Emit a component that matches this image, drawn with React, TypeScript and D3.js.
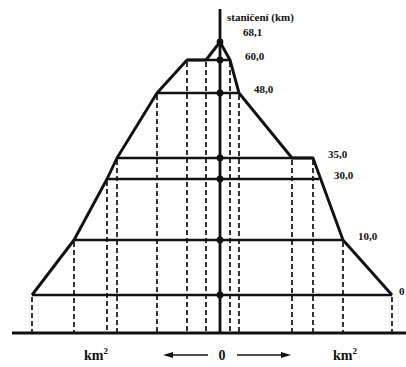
import React from 'react';
import * as d3 from 'd3';

// river chainage (km) of the confluences, from the source down to the mouth
const STATIONS = [68.1, 60.0, 48.0, 35.0, 30.0, 10.0, 0];
const STATION_LABELS = ['68,1', '60,0', '48,0', '35,0', '30,0', '10,0', '0'];

// left bank catchment outline: chainage / area (km2), a repeated chainage = tributary jump
const LEFT_KM = [68.1, 60.0, 60.0, 48.0, 35.0, 30.0, 10.0, 0];
const LEFT_AREA = [0, 14, 33, 63, 103, 113, 146, 188];

// right bank catchment outline
const RIGHT_KM = [68.1, 60.0, 48.0, 35.0, 35.0, 10.0, 0];
const RIGHT_AREA = [0, 10, 19, 72, 93, 123, 172];

const W = 406;
const H = 367;
const FONT = '"Liberation Serif", "Times New Roman", serif';
const INK = '#111';

// area at a given chainage (largest value where the outline jumps)
function areaAt(kms: number[], areas: number[], s: number) {
  const hits = areas.filter((_, i) => kms[i] === s);
  if (hits.length) return d3.max(hits) as number;
  for (let i = 0; i < kms.length - 1; i++) {
    if (kms[i] > s && kms[i + 1] < s) {
      const t = (kms[i] - s) / (kms[i] - kms[i + 1]);
      return areas[i] + t * (areas[i + 1] - areas[i]);
    }
  }
  return 0;
}

export default function App() {
  // the chainage axis of the original drawing is not to scale
  const y = d3.scaleLinear().domain(STATIONS).range([42, 60, 93, 158, 179, 240, 295]);
  const x = d3.scaleLinear().domain([-200, 200]).range([20, 420]);
  const baseY = 333;
  const axisX = x(0);

  const line = d3.line<[number, number]>();
  const leftPts: [number, number][] = LEFT_KM.map((k, i) => [x(-LEFT_AREA[i]), y(k)]);
  const rightPts: [number, number][] = RIGHT_KM.map((k, i) => [x(RIGHT_AREA[i]), y(k)]);

  const drops = [
    ...leftPts.filter((_, i) => LEFT_AREA[i] > 0),
    ...rightPts.filter((_, i) => RIGHT_AREA[i] > 0),
  ];

  return (
    <svg width={W} height={H} style={{ position: 'absolute', left: 0, top: 0, background: '#fff' }}>
      {/* projections of the outline vertices */}
      <g stroke={INK} strokeWidth={1.7} strokeDasharray="5 3">
        {drops.map(([px, py], i) => (
          <line key={`d-${i}`} x1={px} x2={px} y1={py + 2} y2={baseY} />
        ))}
      </g>

      {/* level lines */}
      <g stroke={INK} strokeWidth={2.3}>
        {STATIONS.filter((s) => s < 68).map((s) => (
          <line
            key={`h-${s}`}
            x1={x(-areaAt(LEFT_KM, LEFT_AREA, s))}
            x2={x(areaAt(RIGHT_KM, RIGHT_AREA, s))}
            y1={y(s)}
            y2={y(s)}
          />
        ))}
      </g>

      {/* outline */}
      <path d={line(leftPts) ?? ''} fill="none" stroke={INK} strokeWidth={2.9} strokeLinejoin="round" />
      <path d={line(rightPts) ?? ''} fill="none" stroke={INK} strokeWidth={2.9} strokeLinejoin="round" />

      {/* axis and baseline */}
      <line x1={axisX} x2={axisX} y1={9} y2={baseY} stroke={INK} strokeWidth={2.8} />
      <line x1={12} x2={W} y1={baseY} y2={baseY} stroke={INK} strokeWidth={2.8} />

      {STATIONS.map((s) => (
        <circle key={`c-${s}`} cx={axisX} cy={y(s)} r={3.4} fill={INK} />
      ))}

      {/* labels */}
      <g fontFamily={FONT} fontWeight="bold" fontSize={11} fill={INK} dominantBaseline="middle">
        <text x={227} y={18}>staničení (km)</text>
        {STATIONS.map((s, i) => {
          const top = s > 68;
          const xr = x(areaAt(RIGHT_KM, RIGHT_AREA, s));
          const lx = top ? xr + 23 : Math.min(xr + 15, 399);
          return (
            <text key={`l-${s}`} x={lx} y={top ? y(s) - 9 : y(s) - 3}>
              {STATION_LABELS[i]}
            </text>
          );
        })}
      </g>

      <g fontFamily={FONT} fontWeight="bold" fontSize={14} fill={INK}>
        <text x={96} y={360} textAnchor="middle">
          km<tspan dy={-6} fontSize={9}>2</tspan>
        </text>
        <text x={345} y={360} textAnchor="middle">
          km<tspan dy={-6} fontSize={9}>2</tspan>
        </text>
        <text x={axisX + 2} y={360} textAnchor="middle">0</text>
      </g>

      {/* arrows */}
      <g stroke={INK} strokeWidth={1.4} fill={INK}>
        <line x1={208} x2={168} y1={355} y2={355} />
        <path d="M163,355 L173,352 L173,358 Z" stroke="none" />
        <line x1={237} x2={285} y1={355} y2={355} />
        <path d="M291,355 L281,352 L281,358 Z" stroke="none" />
      </g>
    </svg>
  );
}
